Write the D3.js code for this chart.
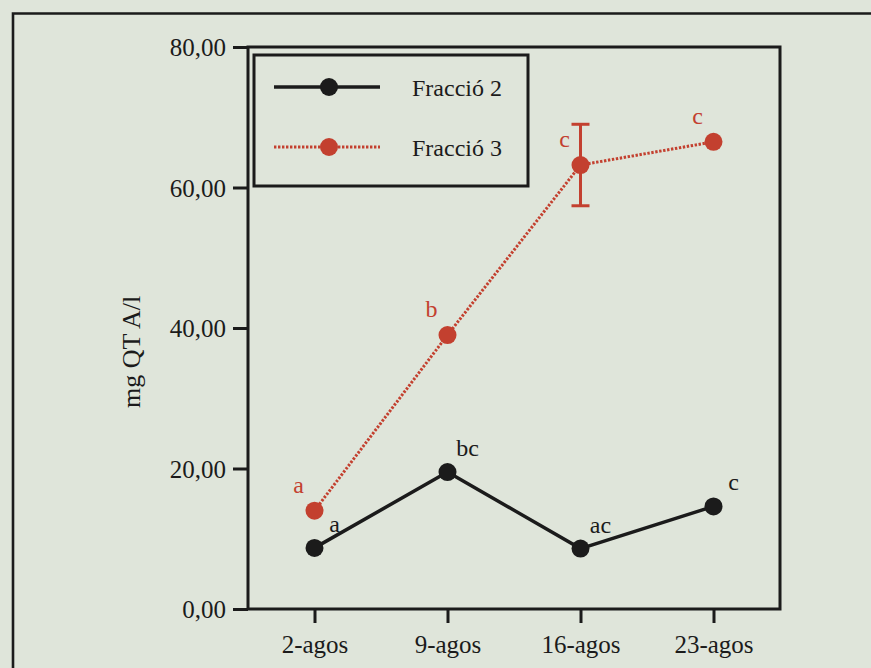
<!DOCTYPE html>
<html>
<head>
<meta charset="utf-8">
<script src="https://cdn.jsdelivr.net/npm/d3@7"></script>
<style>
  html, body { margin: 0; padding: 0; background: #dfe5da; }
  svg { display: block; }
</style>
</head>
<body>
<svg id="chart" width="871" height="668"></svg>
<script>
// Sampling dates
const dates = ["2-agos", "9-agos", "16-agos", "23-agos"];

// mg QT A/l per fraction
const fraccio2 = [8.7, 19.5, 8.6, 14.6];
const fraccio3 = [14.0, 39.0, 63.2, 66.5];

// Error (±) for Fracció 3; only 16-agos carries a bar
const fraccio3Err = [null, null, 5.8, null];

// Significance letters
const letters2 = ["a", "bc", "ac", "c"];
const letters3 = ["a", "b", "c", "c"];

// Y-axis ticks
const yTicks = [0, 20, 40, 60, 80];

const seriesNames = ["Fracció 2", "Fracció 3"];

const ink = "#1b1b1b";
const red = "#c3402f";
const serif = "'Liberation Serif', Tinos, 'Times New Roman', serif";

const svg = d3.select("#chart").style("font-family", serif);

// Page frame
svg.append("path")
  .attr("d", "M13,668 V13.5 H871")
  .attr("fill", "none").attr("stroke", ink).attr("stroke-width", 2.6);

const plot = { left: 248, right: 780, top: 47, bottom: 609 };

const x = d3.scalePoint().domain(dates).range([plot.left, plot.right]).padding(0.5);
const y = d3.scaleLinear().domain([0, 80]).range([plot.bottom, plot.top]);

const fmt = v => d3.format(".2f")(v).replace(".", ",");

// Plot frame
svg.append("rect")
  .attr("x", plot.left).attr("y", plot.top)
  .attr("width", plot.right - plot.left).attr("height", plot.bottom - plot.top)
  .attr("fill", "none").attr("stroke", ink).attr("stroke-width", 3);

// Y axis
const yAxis = svg.append("g")
  .attr("transform", `translate(${plot.left},0)`)
  .call(d3.axisLeft(y).tickValues(yTicks).tickFormat(fmt).tickSize(15).tickPadding(7));
yAxis.attr("font-family", null).attr("font-size", null);
yAxis.select(".domain").remove();
yAxis.selectAll(".tick line").attr("stroke", ink).attr("stroke-width", 3);
yAxis.selectAll(".tick text")
  .attr("fill", ink)
  .style("font-family", serif).style("font-size", "25px")
  .attr("dy", "0.34em");

// X axis
const xAxis = svg.append("g")
  .attr("transform", `translate(0,${plot.bottom})`)
  .call(d3.axisBottom(x).tickSize(14).tickPadding(10));
xAxis.attr("font-family", null).attr("font-size", null);
xAxis.select(".domain").remove();
xAxis.selectAll(".tick line").attr("stroke", ink).attr("stroke-width", 3);
xAxis.selectAll(".tick text")
  .attr("fill", ink)
  .style("font-family", serif).style("font-size", "25px")
  .attr("dy", "0.8em");

// Y axis title
svg.append("text")
  .attr("transform", "translate(140,352) rotate(-90)")
  .attr("text-anchor", "middle")
  .attr("fill", ink)
  .style("font-family", serif).style("font-size", "26px")
  .text("mg QT A/l");

const line = d3.line().x((d, i) => x(dates[i])).y(d => y(d));

// Fracció 3: dotted red
svg.append("path")
  .datum(fraccio3)
  .attr("d", line)
  .attr("fill", "none").attr("stroke", red)
  .attr("stroke-width", 3).attr("stroke-dasharray", "2.4,1.6");

// Error bar
const errG = svg.append("g");
fraccio3.forEach((v, i) => {
  const e = fraccio3Err[i];
  if (e == null) return;
  const cx = x(dates[i]);
  errG.append("line").attr("x1", cx).attr("x2", cx).attr("y1", y(v + e)).attr("y2", y(v - e))
    .attr("stroke", red).attr("stroke-width", 3);
  [v + e, v - e].forEach(t => {
    errG.append("line").attr("x1", cx - 9).attr("x2", cx + 9).attr("y1", y(t)).attr("y2", y(t))
      .attr("stroke", red).attr("stroke-width", 3);
  });
});

// Fracció 2: solid black
svg.append("path")
  .datum(fraccio2)
  .attr("d", line)
  .attr("fill", "none").attr("stroke", ink).attr("stroke-width", 3.5);

// Markers
svg.append("g").selectAll("circle")
  .data(fraccio3).join("circle")
  .attr("cx", (d, i) => x(dates[i])).attr("cy", d => y(d))
  .attr("r", 9).attr("fill", red);

svg.append("g").selectAll("circle")
  .data(fraccio2).join("circle")
  .attr("cx", (d, i) => x(dates[i])).attr("cy", d => y(d))
  .attr("r", 9).attr("fill", ink);

// Significance letters
svg.append("g").selectAll("text")
  .data(fraccio2).join("text")
  .attr("x", (d, i) => x(dates[i]) + 20)
  .attr("y", d => y(d) - 16)
  .attr("text-anchor", "middle").attr("fill", ink)
  .style("font-family", serif).style("font-size", "24px")
  .text((d, i) => letters2[i]);

svg.append("g").selectAll("text")
  .data(fraccio3).join("text")
  .attr("x", (d, i) => x(dates[i]) - 16)
  .attr("y", d => y(d) - 18)
  .attr("text-anchor", "middle").attr("fill", red)
  .style("font-family", serif).style("font-size", "24px")
  .text((d, i) => letters3[i]);

// Legend
const lg = svg.append("g");
lg.append("rect")
  .attr("x", 254).attr("y", 55).attr("width", 274).attr("height", 131)
  .attr("fill", "none").attr("stroke", ink).attr("stroke-width", 3);

const legendItems = [
  { name: seriesNames[0], color: ink, dash: null, w: 3.5 },
  { name: seriesNames[1], color: red, dash: "2.4,1.6", w: 3 }
];
legendItems.forEach((it, k) => {
  const ly = 87 + k * 60;
  lg.append("line").attr("x1", 274).attr("x2", 380).attr("y1", ly).attr("y2", ly)
    .attr("stroke", it.color).attr("stroke-width", it.w)
    .attr("stroke-dasharray", it.dash);
  lg.append("circle").attr("cx", 329).attr("cy", ly).attr("r", 9).attr("fill", it.color);
  lg.append("text").attr("x", 412).attr("y", ly + 9)
    .attr("fill", ink)
    .style("font-family", serif).style("font-size", "24px")
    .text(it.name);
});
</script>
</body>
</html>
